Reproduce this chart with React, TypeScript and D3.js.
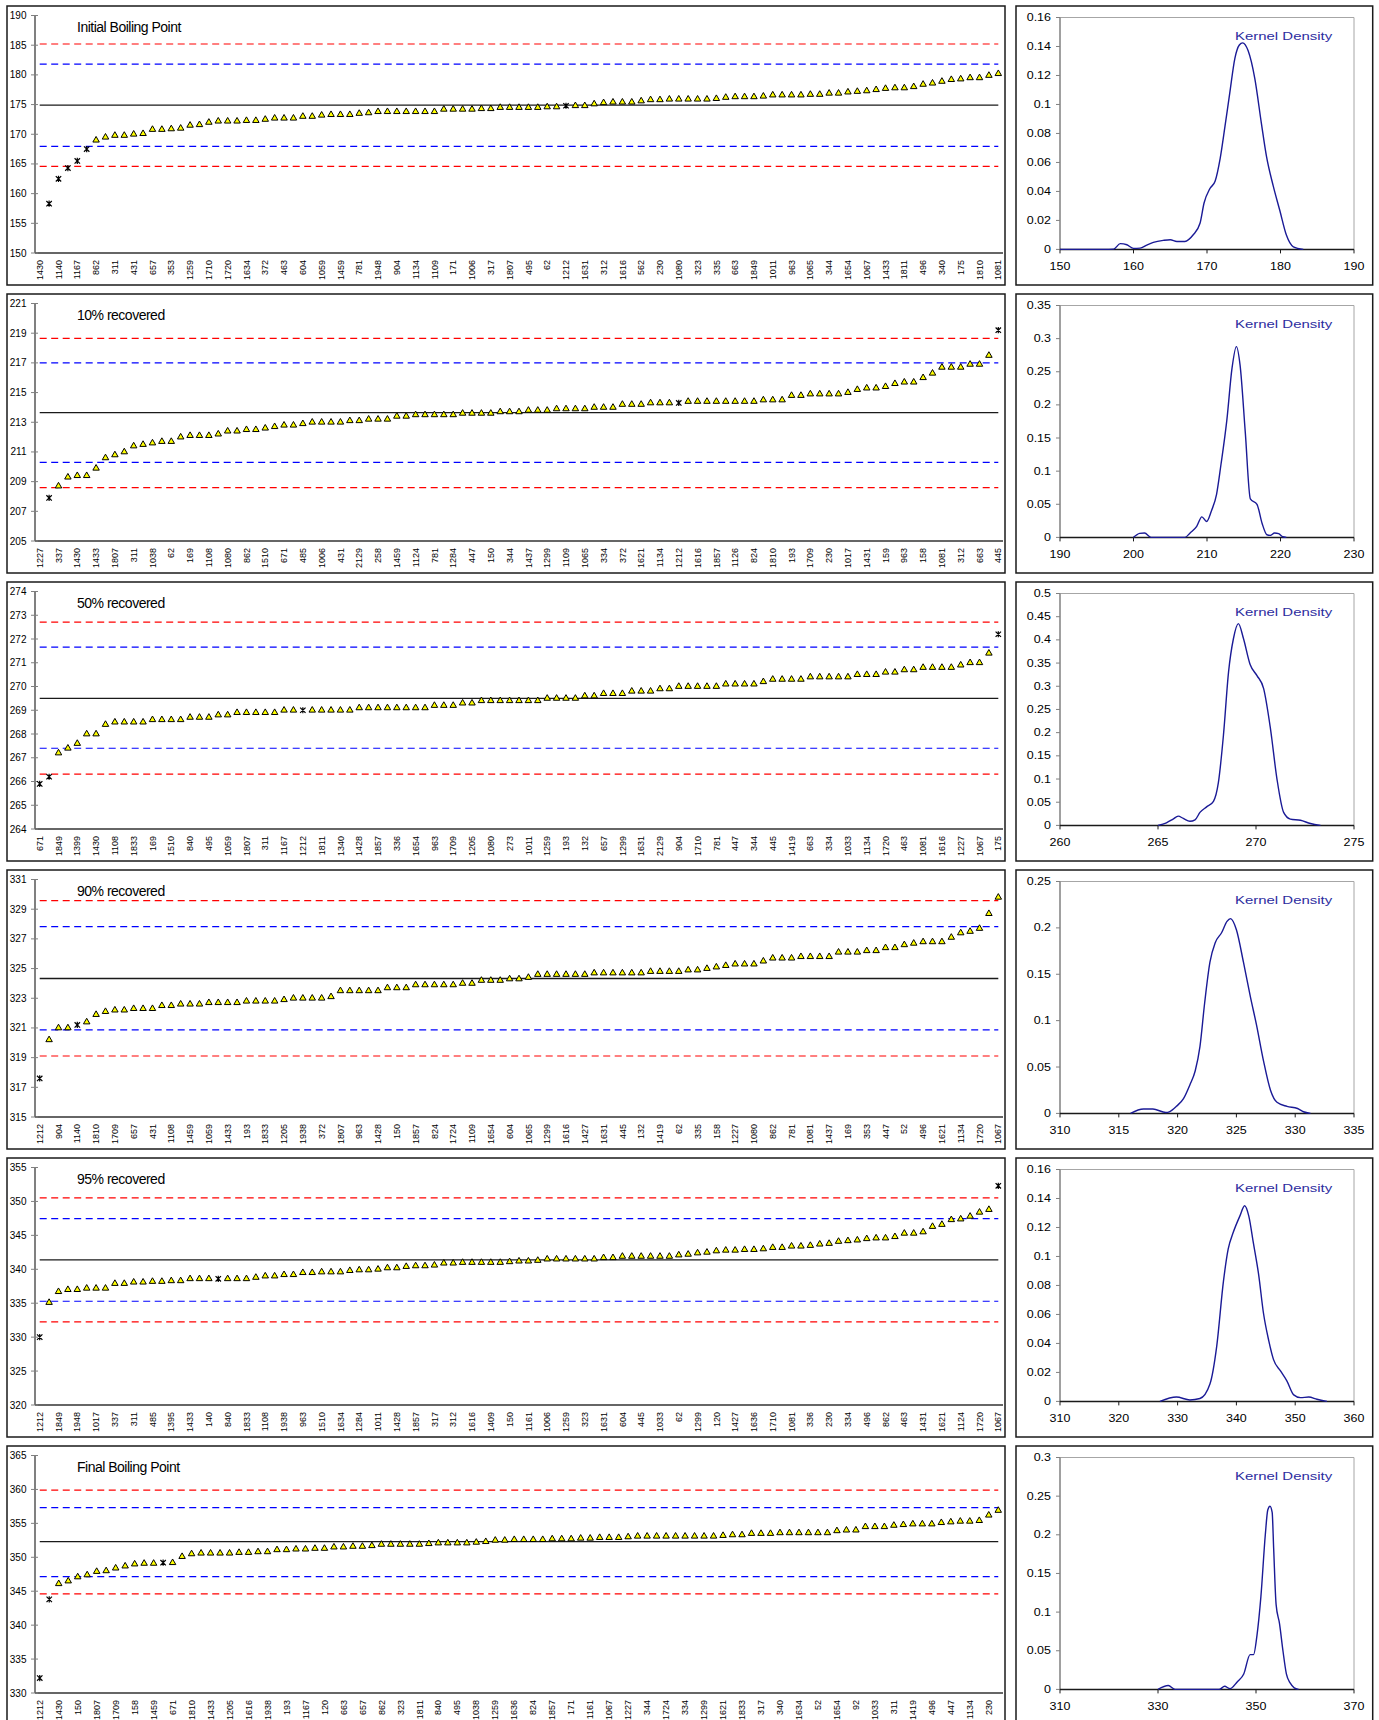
import React from "react";
import * as d3 from "d3";

// ---------- data ----------
const panelTitles = [
  "Initial Boiling Point",
  "10% recovered",
  "50% recovered",
  "90% recovered",
  "95% recovered",
  "Final Boiling Point",
];

// Initial boiling point (first point is below the axis and not drawn)
const ibpLabels = [
  "1430", "1140", "1167", "862", "311", "431", "657", "353", "1259", "1710",
  "1720", "1634", "372", "463", "604", "1059", "1459", "781", "1948", "904",
  "1134", "1109", "171", "1006", "317", "1807", "495", "62", "1212", "1631",
  "312", "1616", "562", "230", "1080", "323", "335", "663", "1849", "1011",
  "963", "1065", "344", "1654", "1067", "1433", "1811", "496", "340", "175",
  "1810", "1081",
];
const ibpValues = [
  null, 158.3, 162.5, 164.3, 165.5, 167.5, 169.0, 169.5, 169.8, 169.8,
  170.0, 170.1, 170.8, 170.8, 170.9, 171.0, 171.5, 171.6, 172.0, 172.2,
  172.2, 172.2, 172.3, 172.3, 172.5, 172.7, 172.7, 172.7, 173.0, 173.0,
  173.2, 173.3, 173.3, 173.3, 173.5, 173.6, 173.8, 173.8, 173.8, 173.8,
  173.8, 173.8, 173.8, 174.2, 174.2, 174.2, 174.2, 174.3, 174.3, 174.5,
  174.5, 174.5, 174.5, 174.5, 174.6, 174.6, 174.8, 174.8, 174.8, 175.1,
  175.3, 175.4, 175.4, 175.4, 175.6, 175.8, 175.8, 175.9, 175.9, 175.9,
  175.9, 175.9, 176.0, 176.2, 176.3, 176.3, 176.3, 176.4, 176.6, 176.6,
  176.6, 176.6, 176.7, 176.7, 176.9, 176.9, 177.1, 177.2, 177.3, 177.5,
  177.7, 177.8, 177.8, 178.0, 178.4, 178.6, 178.9, 179.2, 179.3, 179.5,
  179.5, 179.9, 180.2,
];
const ibpStars = [1, 2, 3, 4, 5, 56];
const ibpLimits = [164.6, 167.95, 174.9, 181.8, 185.2];
const ibpYTicks = [150, 155, 160, 165, 170, 175, 180, 185, 190];

const r10Labels = [
  "1227", "337", "1430", "1433", "1807", "311", "1038", "62", "169", "1108",
  "1080", "862", "1510", "671", "485", "1006", "431", "2129", "258", "1459",
  "1124", "781", "1284", "447", "150", "344", "1437", "1299", "1109", "1065",
  "334", "372", "1621", "1134", "1212", "1616", "1857", "1126", "824", "1810",
  "193", "1709", "230", "1017", "1431", "159", "963", "158", "1081", "312",
  "663", "445",
];
const r10Values = [
  null, 207.9, 208.7, 209.3, 209.4, 209.4, 209.9, 210.6, 210.8, 211.0,
  211.4, 211.5, 211.6, 211.7, 211.7, 212.0, 212.1, 212.1, 212.1, 212.2,
  212.4, 212.4, 212.5, 212.5, 212.6, 212.7, 212.8, 212.8, 212.9, 213.0,
  213.0, 213.0, 213.0, 213.1, 213.1, 213.2, 213.2, 213.2, 213.4, 213.4,
  213.5, 213.5, 213.5, 213.5, 213.5, 213.6, 213.6, 213.6, 213.6, 213.7,
  213.7, 213.7, 213.8, 213.8, 213.8, 213.9, 213.9, 213.9, 213.9, 214.0,
  214.0, 214.0, 214.2, 214.2, 214.2, 214.3, 214.3, 214.3, 214.3, 214.4,
  214.4, 214.4, 214.4, 214.4, 214.4, 214.4, 214.4, 214.5, 214.5, 214.5,
  214.8, 214.8, 214.9, 214.9, 214.9, 214.9, 215.0, 215.2, 215.3, 215.3,
  215.4, 215.6, 215.7, 215.7, 216.0, 216.3, 216.7, 216.7, 216.7, 216.9,
  216.9, 217.5, 219.2,
];
const r10Stars = [1, 68, 102];
const r10Limits = [208.6, 210.3, 213.65, 217.0, 218.65];
const r10YTicks = [205, 207, 209, 211, 213, 215, 217, 219, 221];

const r50Labels = [
  "671", "1849", "1399", "1430", "1108", "1833", "169", "1510", "840", "495",
  "1059", "1807", "311", "1167", "1212", "1811", "1340", "1428", "1857", "336",
  "1654", "963", "1709", "1205", "1080", "273", "1011", "1259", "193", "132",
  "657", "1299", "1631", "2129", "904", "1710", "781", "447", "344", "445",
  "1419", "663", "334", "1033", "1134", "1720", "463", "1081", "1616", "1227",
  "1067", "175",
];
const r50Values = [
  265.9, 266.2, 267.2, 267.4, 267.6, 268.0, 268.0, 268.4, 268.5, 268.5,
  268.5, 268.5, 268.6, 268.6, 268.6, 268.6, 268.7, 268.7, 268.7, 268.8,
  268.8, 268.9, 268.9, 268.9, 268.9, 268.9, 269.0, 269.0, 269.0, 269.0,
  269.0, 269.0, 269.0, 269.0, 269.1, 269.1, 269.1, 269.1, 269.1, 269.1,
  269.1, 269.1, 269.2, 269.2, 269.2, 269.3, 269.3, 269.4, 269.4, 269.4,
  269.4, 269.4, 269.4, 269.4, 269.5, 269.5, 269.5, 269.5, 269.6, 269.6,
  269.7, 269.7, 269.7, 269.8, 269.8, 269.8, 269.9, 269.9, 270.0, 270.0,
  270.0, 270.0, 270.0, 270.1, 270.1, 270.1, 270.1, 270.2, 270.3, 270.3,
  270.3, 270.3, 270.4, 270.4, 270.4, 270.4, 270.4, 270.5, 270.5, 270.5,
  270.6, 270.6, 270.7, 270.7, 270.8, 270.8, 270.8, 270.8, 270.9, 271.0,
  271.0, 271.4, 272.2,
];
const r50Stars = [0, 1, 28, 102];
const r50Limits = [266.31, 267.4, 269.5, 271.66, 272.71];
const r50YTicks = [264, 265, 266, 267, 268, 269, 270, 271, 272, 273, 274];

const r90Labels = [
  "1212", "904", "1140", "1810", "1709", "657", "431", "1108", "1459", "1059",
  "1433", "193", "1833", "1205", "1938", "372", "1807", "963", "1428", "150",
  "1857", "824", "1724", "1109", "1654", "604", "1065", "1299", "1616", "1427",
  "1631", "445", "132", "1419", "62", "335", "158", "1227", "1080", "862",
  "781", "1081", "1437", "169", "353", "447", "52", "496", "1621", "1134",
  "1720", "1067",
];
const r90Values = [
  317.6, 320.2, 321.0, 321.0, 321.2, 321.4, 321.9, 322.1, 322.2, 322.2,
  322.3, 322.3, 322.3, 322.5, 322.5, 322.6, 322.6, 322.6, 322.7, 322.7,
  322.7, 322.7, 322.8, 322.8, 322.8, 322.8, 322.9, 323.0, 323.0, 323.0,
  323.0, 323.1, 323.5, 323.5, 323.5, 323.5, 323.5, 323.7, 323.7, 323.7,
  323.9, 323.9, 323.9, 323.9, 323.9, 324.0, 324.0, 324.2, 324.2, 324.2,
  324.3, 324.3, 324.4, 324.6, 324.6, 324.6, 324.6, 324.6, 324.6, 324.7,
  324.7, 324.7, 324.7, 324.7, 324.7, 324.8, 324.8, 324.8, 324.8, 324.9,
  324.9, 325.0, 325.1, 325.2, 325.3, 325.3, 325.3, 325.5, 325.7, 325.7,
  325.7, 325.8, 325.8, 325.8, 325.8, 326.1, 326.1, 326.1, 326.2, 326.2,
  326.4, 326.4, 326.6, 326.7, 326.8, 326.8, 326.8, 327.1, 327.4, 327.5,
  327.7, 328.7, 329.8,
];
const r90Stars = [0, 4];
const r90Limits = [319.11, 320.87, 324.33, 327.83, 329.58];
const r90YTicks = [315, 317, 319, 321, 323, 325, 327, 329, 331];

const r95Labels = [
  "1212", "1849", "1948", "1017", "337", "311", "485", "1395", "1433", "140",
  "840", "1833", "1108", "1938", "963", "1510", "1634", "1284", "1011", "1428",
  "1857", "317", "312", "1616", "1409", "150", "1161", "1006", "1259", "323",
  "1631", "604", "445", "1033", "62", "1299", "120", "1427", "1636", "1710",
  "1081", "336", "230", "334", "496", "862", "463", "1431", "1621", "1124",
  "1720", "1067",
];
const r95Values = [
  330.0, 335.1, 336.7, 337.0, 337.0, 337.2, 337.2, 337.2, 337.9, 337.9,
  338.1, 338.1, 338.2, 338.2, 338.3, 338.3, 338.6, 338.6, 338.6, 338.6,
  338.6, 338.6, 338.6, 338.8, 339.0, 339.0, 339.2, 339.2, 339.5, 339.5,
  339.6, 339.6, 339.6, 339.8, 339.9, 339.9, 340.0, 340.2, 340.2, 340.4,
  340.5, 340.5, 340.6, 340.9, 340.9, 341.0, 341.0, 341.0, 341.0, 341.0,
  341.1, 341.2, 341.2, 341.3, 341.5, 341.5, 341.5, 341.5, 341.5, 341.5,
  341.7, 341.7, 341.9, 341.9, 341.9, 341.9, 341.9, 341.9, 342.1, 342.2,
  342.4, 342.5, 342.7, 342.8, 342.8, 342.9, 342.9, 343.0, 343.2, 343.2,
  343.4, 343.4, 343.5, 343.7, 343.8, 344.1, 344.2, 344.3, 344.5, 344.6,
  344.6, 344.8, 345.3, 345.3, 345.5, 346.3, 346.6, 347.3, 347.4, 347.8,
  348.4, 348.8, 352.3,
];
const r95Stars = [0, 19, 102];
const r95Limits = [332.24, 335.29, 341.38, 347.48, 350.53];
const r95YTicks = [320, 325, 330, 335, 340, 345, 350, 355];

const fbpLabels = [
  "1212", "1430", "150", "1807", "1709", "158", "1459", "671", "1810", "1433",
  "1205", "1616", "1938", "193", "1167", "120", "663", "657", "862", "323",
  "1811", "840", "495", "1038", "1259", "1636", "824", "1857", "171", "1161",
  "1067", "1227", "344", "1724", "334", "1299", "1621", "1833", "317", "340",
  "1634", "52", "1654", "92", "1033", "311", "1419", "496", "447", "1134",
  "230",
];
const fbpValues = [
  332.2, 343.8, 346.1, 346.5, 347.1, 347.4, 347.9, 348.0, 348.4, 348.7,
  349.0, 349.1, 349.1, 349.2, 349.2, 350.1, 350.5, 350.6, 350.6, 350.6,
  350.6, 350.7, 350.7, 350.8, 350.8, 351.1, 351.1, 351.2, 351.2, 351.3,
  351.3, 351.5, 351.5, 351.6, 351.6, 351.7, 351.9, 351.9, 351.9, 351.9,
  351.9, 352.0, 352.1, 352.1, 352.1, 352.1, 352.2, 352.3, 352.5, 352.5,
  352.6, 352.6, 352.6, 352.6, 352.7, 352.7, 352.7, 352.8, 352.8, 352.9,
  352.9, 352.9, 353.0, 353.1, 353.1, 353.1, 353.1, 353.1, 353.1, 353.1,
  353.1, 353.1, 353.2, 353.3, 353.3, 353.5, 353.5, 353.5, 353.6, 353.6,
  353.6, 353.6, 353.6, 353.6, 353.9, 354.0, 354.0, 354.5, 354.5, 354.5,
  354.7, 354.8, 354.9, 354.9, 354.9, 355.1, 355.2, 355.3, 355.3, 355.4,
  356.2, 356.9,
];
const fbpStars = [0, 1, 13];
const fbpLimits = [344.6, 347.15, 352.3, 357.33, 359.89];
const fbpYTicks = [330, 335, 340, 345, 350, 355, 360, 365];

// kernel density curves [temperature, density]
const ibpDensity = [
  [150, 0], [156, 0], [157.3, 0.0002], [158.2, 0.004], [159.1, 0.0032], [160.0, 0.0007],
  [160.9, 0.0009], [161.8, 0.003], [162.7, 0.0048], [164.05, 0.0062], [165.0, 0.0067],
  [165.9, 0.0055], [167.0, 0.0055], [168.1, 0.0099], [169.05, 0.018], [169.6, 0.032],
  [170.4, 0.042], [171.1, 0.047], [171.8, 0.063], [172.45, 0.085], [173.1, 0.108],
  [173.8, 0.132], [174.4, 0.141], [174.85, 0.1425], [175.6, 0.137], [176.5, 0.118],
  [177.4, 0.087], [178.1, 0.064], [179.0, 0.044], [179.9, 0.027], [180.8, 0.0099],
  [181.75, 0.0018], [183.1, 0],
];
const r10Density = [
  [200, 0], [200.84, 0.006], [201.5, 0.0067], [202.4, 0], [207.0, 0], [207.7, 0.0067],
  [208.6, 0.0168], [209.3, 0.031], [209.95, 0.024], [210.6, 0.04], [211.3, 0.065],
  [211.9, 0.11], [212.7, 0.177], [213.4, 0.255], [214.0, 0.288], [214.5, 0.26],
  [215.2, 0.16], [215.9, 0.058], [216.8, 0.05], [217.5, 0.021], [218.15, 0.004],
  [218.6, 0.003], [219.2, 0.0067], [219.75, 0.0056], [220.3, 0.001], [220.8, 0],
];
const r50Density = [
  [265.0, 0], [265.43, 0.0056], [265.77, 0.0136], [266.03, 0.02], [266.29, 0.015],
  [266.63, 0.0088], [266.89, 0.012], [267.14, 0.028], [267.48, 0.04], [267.83, 0.052],
  [268.08, 0.092], [268.34, 0.195], [268.6, 0.331], [268.85, 0.403], [269.1, 0.435],
  [269.36, 0.403], [269.7, 0.347], [270.05, 0.323], [270.39, 0.295], [270.73, 0.211],
  [271.07, 0.1], [271.41, 0.028], [271.75, 0.0136], [272.27, 0.011], [272.78, 0.004],
  [273.29, 0],
];
const r90Density = [
  [316.0, 0], [317.1, 0.0047], [317.9, 0.0047], [319.0, 0.001], [319.34, 0.002],
  [319.9, 0.0076], [320.5, 0.016], [321.05, 0.031], [321.5, 0.046], [321.9, 0.072],
  [322.3, 0.119], [322.75, 0.163], [323.2, 0.184], [323.75, 0.195], [324.2, 0.207],
  [324.5, 0.21], [325.0, 0.198], [325.6, 0.163], [326.2, 0.125], [326.7, 0.096],
  [327.3, 0.057], [327.9, 0.025], [328.45, 0.012], [329.3, 0.0076], [330.2, 0.0053],
  [330.7, 0.0018], [331.3, 0],
];
const r95Density = [
  [327.0, 0], [329.8, 0.003], [332.1, 0.001], [333.8, 0.002], [335.5, 0.012],
  [336.65, 0.038], [337.8, 0.083], [338.6, 0.105], [339.5, 0.117], [340.6, 0.128],
  [341.4, 0.135], [342.1, 0.128], [342.9, 0.109], [343.8, 0.087], [344.6, 0.061],
  [345.5, 0.042], [346.3, 0.029], [347.5, 0.021], [348.6, 0.014], [349.75, 0.0045],
  [350.9, 0.0026], [352.3, 0.003], [353.7, 0.0015], [355.4, 0],
];
const fbpDensity = [
  [330.0, 0], [332.1, 0.005], [333.5, 0], [342.5, 0], [343.6, 0.004], [344.7, 0.001],
  [346.2, 0.01], [347.5, 0.02], [348.8, 0.045], [349.5, 0.045], [350.2, 0.07],
  [351.0, 0.12], [351.9, 0.2], [352.4, 0.232], [352.86, 0.237], [353.3, 0.229],
  [353.6, 0.183], [354.1, 0.11], [354.8, 0.085], [355.5, 0.05], [356.2, 0.02],
  [357.0, 0.008], [357.8, 0.002], [358.7, 0],
];

const ibpDensXTicks = [150, 160, 170, 180, 190];
const ibpDensYTicks = [0, 0.02, 0.04, 0.06, 0.08, 0.1, 0.12, 0.14, 0.16];
const r10DensXTicks = [190, 200, 210, 220, 230];
const r10DensYTicks = [0, 0.05, 0.1, 0.15, 0.2, 0.25, 0.3, 0.35];
const r50DensXTicks = [260, 265, 270, 275];
const r50DensYTicks = [0, 0.05, 0.1, 0.15, 0.2, 0.25, 0.3, 0.35, 0.4, 0.45, 0.5];
const r90DensXTicks = [310, 315, 320, 325, 330, 335];
const r90DensYTicks = [0, 0.05, 0.1, 0.15, 0.2, 0.25];
const r95DensXTicks = [310, 320, 330, 340, 350, 360];
const r95DensYTicks = [0, 0.02, 0.04, 0.06, 0.08, 0.1, 0.12, 0.14, 0.16];
const fbpDensXTicks = [310, 330, 350, 370];
const fbpDensYTicks = [0, 0.05, 0.1, 0.15, 0.2, 0.25, 0.3];

const panels = [
  { title: panelTitles[0], labels: ibpLabels, values: ibpValues, stars: ibpStars, limits: ibpLimits, yTicks: ibpYTicks, density: ibpDensity, dx: ibpDensXTicks, dy: ibpDensYTicks },
  { title: panelTitles[1], labels: r10Labels, values: r10Values, stars: r10Stars, limits: r10Limits, yTicks: r10YTicks, density: r10Density, dx: r10DensXTicks, dy: r10DensYTicks },
  { title: panelTitles[2], labels: r50Labels, values: r50Values, stars: r50Stars, limits: r50Limits, yTicks: r50YTicks, density: r50Density, dx: r50DensXTicks, dy: r50DensYTicks },
  { title: panelTitles[3], labels: r90Labels, values: r90Values, stars: r90Stars, limits: r90Limits, yTicks: r90YTicks, density: r90Density, dx: r90DensXTicks, dy: r90DensYTicks },
  { title: panelTitles[4], labels: r95Labels, values: r95Values, stars: r95Stars, limits: r95Limits, yTicks: r95YTicks, density: r95Density, dx: r95DensXTicks, dy: r95DensYTicks },
  { title: panelTitles[5], labels: fbpLabels, values: fbpValues, stars: fbpStars, limits: fbpLimits, yTicks: fbpYTicks, density: fbpDensity, dx: fbpDensXTicks, dy: fbpDensYTicks },
];

// ---------- layout ----------
const FONT = "'Liberation Sans', Arial, sans-serif";
const ROW_TOP = 6;
const ROW_STEP = 288;
const BOX_H = 279;
const limitColors = ["#ff0000", "#0000ff", "#1a1a1a", "#0000ff", "#ff0000"];

const triangle = d3.symbol().type(d3.symbolTriangle).size(18)();
const star = "M-2.7,-2.7L2.7,2.7M-2.7,2.7L2.7,-2.7M0,-3.1L0,3.1";

function ScatterPanel({ p, top }: { p: any; top: number }) {
  const n = p.values.length;
  const x = d3.scalePoint<number>().domain(d3.range(n)).range([35, 1003]).padding(0.5);
  const yt = p.yTicks;
  const y = d3.scaleLinear().domain([yt[0], yt[yt.length - 1]]).range([top + 247, top + 9.5]);
  const xa = x(0) as number;
  const xb = x(n - 1) as number;
  return (
    <g>
      <rect x={7} y={top} width={998} height={BOX_H} fill="#fff" stroke="#1a1a1a" strokeWidth={1.5} />
      {p.limits.map((v: number, i: number) => (
        <line
          key={"l" + i}
          x1={xa}
          x2={xb}
          y1={y(v)}
          y2={y(v)}
          stroke={limitColors[i]}
          strokeWidth={i === 2 ? 1.3 : 1.2}
          strokeDasharray={i === 2 ? undefined : "7,4.5"}
        />
      ))}
      <line x1={35} x2={35} y1={top + 9.5} y2={top + 247} stroke="#808080" strokeWidth={2} />
      <line x1={35} x2={1003} y1={top + 247} y2={top + 247} stroke="#333" strokeWidth={1.5} />
      {yt.map((v: number) => (
        <g key={"t" + v}>
          <line x1={31} x2={38} y1={y(v)} y2={y(v)} stroke="#808080" strokeWidth={1} />
          <text x={26.5} y={y(v)} dy="0.35em" textAnchor="end" fontSize={10} fontFamily={FONT}>
            {v}
          </text>
        </g>
      ))}
      {p.labels.map((s: string, k: number) => (
        <text
          key={"x" + k}
          transform={`translate(${x(2 * k)},${top + 254}) rotate(-90)`}
          dy="0.35em"
          textAnchor="end"
          fontSize={9}
          fontFamily={FONT}
        >
          {s}
        </text>
      ))}
      {p.values.map((v: number | null, i: number) =>
        v === null ? null : p.stars.includes(i) ? (
          <path key={"p" + i} d={star} transform={`translate(${x(i)},${y(v)})`} stroke="#000" strokeWidth={1.2} fill="none" />
        ) : (
          <path key={"p" + i} d={triangle} transform={`translate(${x(i)},${y(v)})`} fill="#ffff00" stroke="#000" strokeWidth={1} />
        )
      )}
      <text x={77} y={top + 26} fontSize={14} letterSpacing={-0.5} fontFamily={FONT}>
        {p.title}
      </text>
    </g>
  );
}

function DensityPanel({ p, top }: { p: any; top: number }) {
  const xt = p.dx;
  const ytk = p.dy;
  const x = d3.scaleLinear().domain([xt[0], xt[xt.length - 1]]).range([1060, 1354]);
  const y = d3.scaleLinear().domain([0, ytk[ytk.length - 1]]).range([top + 243.4, top + 11.5]);
  const line = d3
    .line<number[]>()
    .x((d) => x(d[0]))
    .y((d) => y(d[1]))
    .curve(d3.curveMonotoneX);
  const y0 = top + 243.4;
  const y1 = top + 11.5;
  return (
    <g>
      <rect x={1016} y={top} width={356.7} height={BOX_H} fill="#fff" stroke="#1a1a1a" strokeWidth={1.5} />
      <line x1={1060} x2={1354} y1={y1} y2={y1} stroke="#a6a6a6" strokeWidth={1} />
      <line x1={1354} x2={1354} y1={y1} y2={y0} stroke="#a6a6a6" strokeWidth={1} />
      <line x1={1060} x2={1060} y1={y1} y2={y0} stroke="#808080" strokeWidth={1.5} />
      <line x1={1060} x2={1354} y1={y0} y2={y0} stroke="#1a1a1a" strokeWidth={1.5} />
      {ytk.map((v: number) => (
        <g key={"dy" + v}>
          <line x1={1056} x2={1060} y1={y(v)} y2={y(v)} stroke="#808080" strokeWidth={1} />
          <text
            transform={`translate(1051,${y(v)}) scale(1.25,1)`}
            dy="0.35em"
            textAnchor="end"
            fontSize={10}
            fontFamily={FONT}
          >
            {v}
          </text>
        </g>
      ))}
      {xt.map((v: number) => (
        <g key={"dx" + v}>
          <line x1={x(v)} x2={x(v)} y1={y0} y2={y0 + 4} stroke="#1a1a1a" strokeWidth={1} />
          <text
            transform={`translate(${x(v)},${top + 264}) scale(1.25,1)`}
            textAnchor="middle"
            fontSize={10}
            fontFamily={FONT}
          >
            {v}
          </text>
        </g>
      ))}
      <path d={line(p.density) || ""} fill="none" stroke="#1a1a96" strokeWidth={1.4} />
      <text
        transform={`translate(1235,${top + 33.5}) scale(1.3,1)`}
        fontSize={11.5}
        fill="#2d2da0"
        fontFamily={FONT}
      >
        Kernel Density
      </text>
    </g>
  );
}

export default function App() {
  return (
    <svg
      width={1379}
      height={1720}
      style={{ position: "absolute", left: 0, top: 0, background: "#fff" }}
    >
      <rect x={0} y={0} width={1379} height={1720} fill="#fff" />
      {panels.map((p, i) => (
        <g key={i}>
          <ScatterPanel p={p} top={ROW_TOP + i * ROW_STEP} />
          <DensityPanel p={p} top={ROW_TOP + i * ROW_STEP} />
        </g>
      ))}
    </svg>
  );
}
